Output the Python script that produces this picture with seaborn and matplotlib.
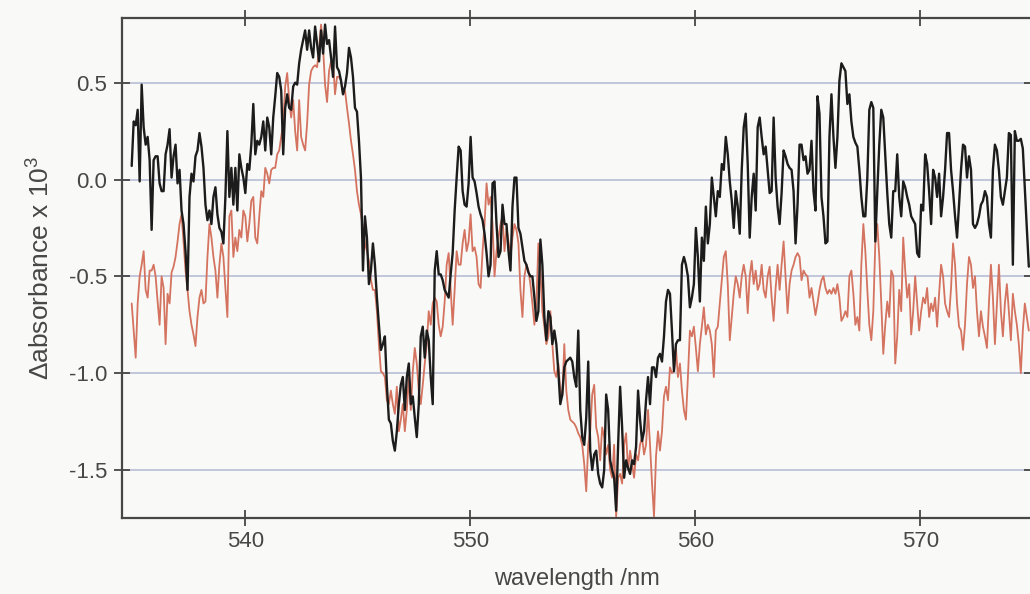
import numpy as np
import pandas as pd
import matplotlib
matplotlib.use("Agg")
import matplotlib.pyplot as plt
import seaborn as sns

# Difference spectra, absorbance x 10^3, on a common wavelength grid (nm)
wl_start, wl_end = 534.95, 574.82

trace_black = [
    # 535 - 545 nm
    0.07, 0.30, 0.28, 0.36, -0.01, 0.49, 0.27, 0.18, 0.22, 0.10,
    -0.26, 0.10, 0.12, 0.12, -0.02, -0.06, -0.06, 0.13, 0.18, 0.26,
    0.01, 0.12, 0.18, -0.02, 0.05, -0.16, -0.23, -0.37, -0.57, -0.09,
    0.03, -0.01, 0.12, 0.15, 0.24, 0.17, 0.06, -0.13, -0.21, -0.16,
    -0.23, -0.09, -0.04, -0.18, -0.25, -0.27, -0.33, -0.09, 0.25, -0.09,
    0.06, -0.13, 0.06, -0.16, 0.13, 0.06, 0.01, -0.07, 0.08, 0.05,
    0.18, 0.39, 0.13, 0.20, 0.18, 0.22, 0.30, 0.15, 0.32, 0.27,
    0.13, 0.32, 0.43, 0.55, 0.53, 0.46, 0.13, 0.37, 0.44, 0.37,
    0.36, 0.48, 0.50, 0.49, 0.60, 0.67, 0.72, 0.77, 0.67, 0.77,
    0.68, 0.63, 0.79, 0.70, 0.61, 0.77, 0.65, 0.80, 0.70, 0.72,
    0.63, 0.53, 0.79, 0.58, 0.56, 0.51, 0.44,
    # 545 - 555 nm
    0.48, 0.55, 0.68, 0.63, 0.53, 0.37, 0.35, 0.20, 0.01, -0.47,
    -0.19, -0.30, -0.54, -0.47, -0.33, -0.44, -0.61, -0.75, -0.88, -0.85,
    -0.81, -1.06, -1.24, -1.26, -1.35, -1.40, -1.30, -1.16, -1.06, -1.02,
    -1.19, -1.02, -0.95, -1.16, -1.12, -1.23, -1.33, -1.16, -0.81, -0.76,
    -0.92, -0.78, -0.83, -1.02, -1.16, -0.47, -0.37, -0.49, -0.49, -0.52,
    -0.57, -0.59, -0.61, -0.49, -0.38, -0.16, 0.01, 0.17, 0.15, -0.06,
    -0.13, -0.14, -0.02, 0.22, 0.01, -0.01, -0.07, -0.14, -0.18, -0.21,
    -0.28, -0.38, -0.50, -0.44, -0.02, -0.01, -0.23, -0.40, -0.37, -0.13,
    -0.23, -0.23, -0.37, -0.47, -0.14, 0.01, 0.01, -0.25, -0.28, -0.35,
    -0.42, -0.44, -0.48, -0.50, -0.50, -0.61, -0.73, -0.68, -0.31, -0.44,
    -0.71, -0.83, -0.68, -0.71, -0.85, -0.78, -0.85, -0.99, -1.16, -1.11,
    -0.97, -0.94, -0.93,
    # 555 - 565 nm
    -0.92, -0.94, -1.02, -1.07, -0.78, -1.19, -1.33, -1.37, -1.23, -0.94,
    -1.40, -1.50, -1.42, -1.40, -1.52, -1.57, -1.59, -1.50, -1.11, -1.19,
    -1.45, -1.50, -1.54, -1.71, -1.37, -1.07, -1.28, -1.54, -1.45, -1.49,
    -1.52, -1.45, -1.47, -1.38, -1.09, -1.24, -1.35, -1.30, -1.14, -1.02,
    -1.16, -0.97, -0.97, -1.02, -0.92, -0.90, -0.94, -0.81, -0.63, -0.57,
    -0.59, -0.78, -0.99, -0.85, -0.83, -0.83, -0.44, -0.40, -0.44, -0.50,
    -0.66, -0.61, -0.54, -0.25, -0.40, -0.63, -0.30, -0.42, -0.14, -0.33,
    -0.23, 0.01, -0.09, -0.19, -0.06, -0.09, 0.08, 0.05, 0.22, 0.13,
    -0.01, -0.11, -0.25, -0.06, -0.14, -0.28, 0.05, 0.27, 0.34, 0.08,
    -0.30, -0.09, 0.03, -0.16, 0.27, 0.32, 0.22, 0.13, 0.17, 0.05,
    -0.07, -0.06, 0.32, 0.01, -0.14, -0.23, -0.07, 0.15, 0.12, 0.08,
    0.06, 0.05, -0.06,
    # 565 - 575 nm
    -0.33, -0.13, 0.18, 0.18, 0.10, 0.12, 0.03, 0.05, 0.20, -0.06,
    -0.16, 0.43, 0.34, -0.09, -0.19, -0.33, -0.32, 0.22, 0.44, 0.22,
    0.06, 0.22, 0.51, 0.60, 0.58, 0.56, 0.39, 0.44, 0.30, 0.22,
    0.19, 0.17, 0.05, -0.09, -0.19, -0.19, 0.01, 0.36, 0.40, 0.37,
    -0.32, -0.06, 0.18, 0.36, 0.32, 0.12, -0.07, -0.23, -0.30, -0.06,
    -0.06, 0.13, -0.09, -0.19, -0.01, -0.04, -0.09, -0.13, -0.19, -0.21,
    -0.23, -0.38, -0.40, -0.13, -0.16, 0.13, 0.08, -0.06, -0.23, 0.05,
    0.01, -0.09, 0.03, -0.19, -0.09, 0.05, 0.24, 0.24, 0.05, -0.06,
    -0.19, -0.30, -0.13, 0.05, 0.18, 0.17, 0.01, 0.12, 0.05, -0.23,
    -0.25, -0.23, -0.19, -0.13, -0.11, -0.06, -0.09, -0.23, -0.30, 0.05,
    0.18, 0.15, 0.05, -0.09, -0.13, -0.06, 0.01, 0.24, 0.23, -0.44,
    0.25, 0.20, 0.20, 0.21, 0.16, -0.05, -0.25, -0.45,
]

trace_red = [
    # 535 - 545 nm
    -0.64, -0.78, -0.92, -0.64, -0.50, -0.44, -0.37, -0.57, -0.61, -0.47,
    -0.47, -0.44, -0.50, -0.63, -0.75, -0.50, -0.56, -0.85, -0.59, -0.64,
    -0.48, -0.45, -0.40, -0.32, -0.23, -0.18, -0.32, -0.47, -0.57, -0.68,
    -0.75, -0.80, -0.86, -0.71, -0.61, -0.57, -0.64, -0.63, -0.40, -0.23,
    -0.30, -0.40, -0.47, -0.61, -0.44, -0.33, -0.40, -0.56, -0.71, -0.19,
    -0.16, -0.40, -0.30, -0.37, -0.26, -0.30, -0.16, -0.19, -0.32, -0.23,
    -0.11, -0.09, -0.30, -0.33, -0.19, -0.06, -0.09, 0.06, 0.03, -0.02,
    0.05, 0.06, 0.06, 0.13, 0.15, 0.22, 0.29, 0.48, 0.55, 0.41,
    0.32, 0.41, 0.25, 0.15, 0.41, 0.22, 0.18, 0.15, 0.29, 0.49,
    0.56, 0.58, 0.59, 0.58, 0.68, 0.80, 0.68, 0.49, 0.40, 0.56,
    0.61, 0.61, 0.44, 0.53, 0.53, 0.51, 0.44,
    # 545 - 555 nm
    0.46, 0.37, 0.29, 0.20, 0.13, 0.05, -0.06, -0.13, -0.18, -0.25,
    -0.33, -0.37, -0.42, -0.52, -0.57, -0.57, -0.68, -0.85, -0.99, -1.00,
    -1.02, -1.14, -1.16, -1.09, -1.16, -1.21, -1.07, -1.30, -1.24, -1.16,
    -1.30, -1.19, -1.02, -1.19, -0.99, -0.87, -0.95, -1.09, -1.16, -1.06,
    -0.95, -0.85, -0.68, -0.75, -0.64, -0.61, -0.63, -0.75, -0.81, -0.76,
    -0.63, -0.44, -0.38, -0.56, -0.75, -0.57, -0.37, -0.44, -0.44, -0.33,
    -0.26, -0.37, -0.32, -0.18, -0.37, -0.35, -0.40, -0.54, -0.56, -0.37,
    -0.23, -0.02, -0.13, -0.09, -0.23, -0.50, -0.37, -0.30, -0.23, -0.19,
    -0.37, -0.25, -0.32, -0.40, -0.30, -0.23, -0.26, -0.33, -0.57, -0.71,
    -0.50, -0.44, -0.47, -0.54, -0.64, -0.75, -0.64, -0.33, -0.47, -0.68,
    -0.76, -0.85, -0.81, -0.68, -0.85, -0.99, -1.02, -0.95, -1.09, -1.12,
    -0.85, -1.09, -1.19,
    # 555 - 565 nm
    -1.24, -1.25, -1.26, -1.28, -1.31, -1.33, -1.37, -1.47, -1.61, -1.37,
    -1.30, -1.11, -1.06, -1.28, -1.33, -1.45, -1.28, -1.33, -1.42, -1.37,
    -1.50, -1.54, -1.37, -1.74, -1.54, -1.52, -1.57, -1.37, -1.31, -1.50,
    -1.40, -1.47, -1.54, -1.42, -1.45, -1.37, -1.33, -1.42, -1.37, -1.19,
    -1.37, -1.57, -1.74, -1.43, -1.30, -1.40, -1.30, -1.12, -1.07, -1.14,
    -0.97, -1.00, -0.99, -0.87, -1.02, -0.95, -1.09, -1.19, -1.24, -1.02,
    -0.78, -0.81, -0.76, -0.87, -0.99, -0.85, -0.76, -0.66, -0.80, -0.75,
    -0.78, -0.85, -1.02, -0.78, -0.76, -0.64, -0.52, -0.40, -0.37, -0.54,
    -0.83, -0.71, -0.59, -0.50, -0.54, -0.61, -0.50, -0.44, -0.50, -0.69,
    -0.50, -0.42, -0.54, -0.47, -0.57, -0.54, -0.44, -0.57, -0.61, -0.50,
    -0.45, -0.61, -0.73, -0.56, -0.44, -0.57, -0.44, -0.32, -0.50, -0.69,
    -0.54, -0.47, -0.44,
    # 565 - 575 nm
    -0.40, -0.38, -0.40, -0.52, -0.47, -0.49, -0.50, -0.61, -0.56, -0.63,
    -0.70, -0.64, -0.57, -0.52, -0.50, -0.56, -0.59, -0.57, -0.59, -0.56,
    -0.59, -0.54, -0.61, -0.73, -0.71, -0.68, -0.71, -0.50, -0.47, -0.59,
    -0.75, -0.71, -0.78, -0.44, -0.23, -0.37, -0.57, -0.75, -0.83, -0.68,
    -0.33, -0.23, -0.40, -0.64, -0.90, -0.75, -0.63, -0.71, -0.47, -0.50,
    -0.95, -0.81, -0.57, -0.68, -0.30, -0.47, -0.61, -0.54, -0.80, -0.68,
    -0.50, -0.64, -0.78, -0.68, -0.61, -0.64, -0.56, -0.71, -0.64, -0.68,
    -0.61, -0.76, -0.59, -0.44, -0.50, -0.64, -0.68, -0.71, -0.56, -0.33,
    -0.44, -0.64, -0.76, -0.78, -0.88, -0.75, -0.54, -0.40, -0.44, -0.56,
    -0.50, -0.68, -0.81, -0.68, -0.76, -0.81, -0.87, -0.64, -0.44, -0.61,
    -0.85, -0.64, -0.44, -0.68, -0.81, -0.64, -0.54, -0.68, -0.83, -0.59,
    -0.68, -0.75, -0.85, -1.00, -0.78, -0.64, -0.71, -0.78,
]

x_ticks = [540, 550, 560, 570]
y_ticks = [-1.5, -1.0, -0.5, 0.0, 0.5]
x_label = "wavelength /nm"
y_label = r"$\Delta$absorbance x 10$^3$"

wavelength_black = np.linspace(wl_start, wl_end, len(trace_black))
wavelength_red = np.linspace(wl_start, wl_end, len(trace_red))
df_black = pd.DataFrame({"wavelength": wavelength_black, "dA": trace_black})
df_red = pd.DataFrame({"wavelength": wavelength_red, "dA": trace_red})

sns.set_theme(style="white")
plt.rcParams["font.family"] = ["Liberation Sans", "DejaVu Sans"]
plt.rcParams["mathtext.fontset"] = "custom"
plt.rcParams["mathtext.rm"] = "Liberation Sans"
plt.rcParams["mathtext.it"] = "Liberation Sans"

bg = "#f9f9f7"
fig = plt.figure(figsize=(10.3, 5.94), dpi=100, facecolor=bg)
ax = fig.add_axes([0.1189, 0.1279, 0.883, 0.8418])
ax.set_facecolor(bg)

sns.lineplot(data=df_red, x="wavelength", y="dA", ax=ax, color="#d4735f",
             linewidth=1.3, sort=False, estimator=None)
sns.lineplot(data=df_black, x="wavelength", y="dA", ax=ax, color="#1c1c1c",
             linewidth=1.7, sort=False, estimator=None)

ax.set_xlim(534.54, 574.96)
ax.set_ylim(-1.748, 0.834)
ax.set_xticks(x_ticks)
ax.set_yticks(y_ticks)
ax.set_yticklabels([f"{v:.1f}" for v in y_ticks])

ax.yaxis.grid(True, color="#b9bdd6", linewidth=1.2)
ax.xaxis.grid(False)
ax.set_axisbelow(True)

for side in ["left", "right", "top", "bottom"]:
    ax.spines[side].set_visible(True)
    ax.spines[side].set_color("#474747")
    ax.spines[side].set_linewidth(1.6)

ax.tick_params(axis="both", which="major", direction="inout", length=12,
               width=1.3, color="#474747", labelsize=16, labelcolor="#474747",
               top=True, right=True, bottom=True, left=True)
ax.tick_params(axis="x", pad=3)
ax.tick_params(axis="y", pad=5)

ax.set_xlabel(x_label, fontsize=17, color="#474747", labelpad=12)
ax.set_ylabel(y_label, fontsize=19, color="#474747", labelpad=10)

fig.savefig("out.png", dpi=100, facecolor=bg)
